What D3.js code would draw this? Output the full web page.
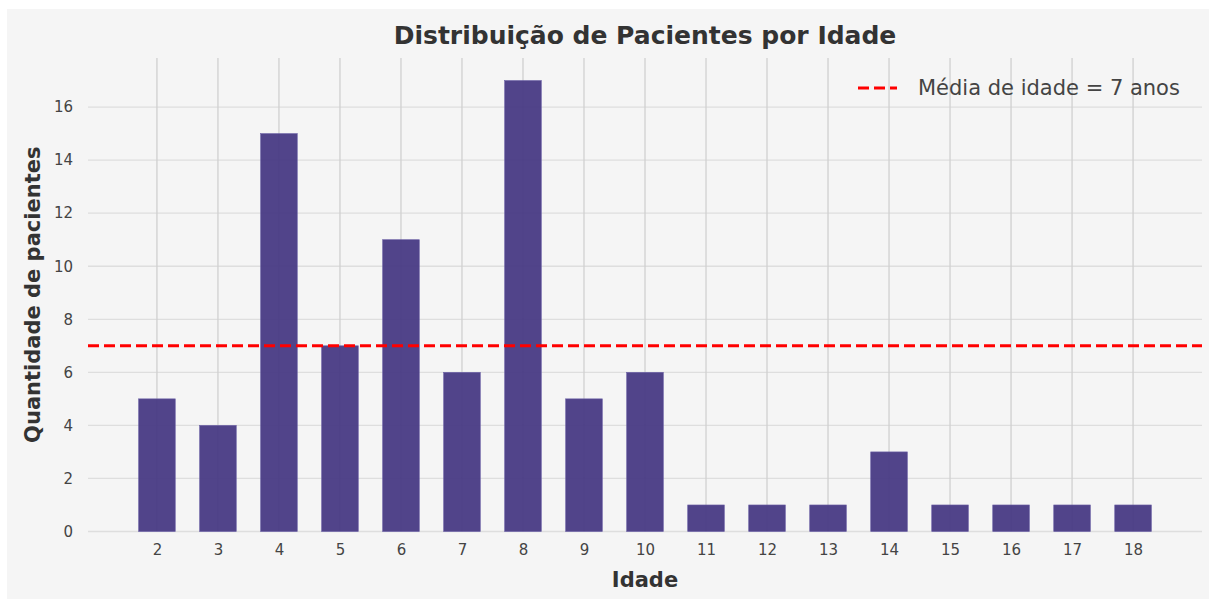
<!DOCTYPE html>
<html><head><meta charset="utf-8">
<script src="https://cdn.jsdelivr.net/npm/d3@7"></script>
<style>body{margin:0;background:#fff;font-family:"DejaVu Sans",sans-serif}</style>
</head><body>
<svg id="c" width="1216" height="599"></svg>
<script>
const ages = [2,3,4,5,6,7,8,9,10,11,12,13,14,15,16,17,18];
const counts = [5,4,15,7,11,6,17,5,6,1,1,1,3,1,1,1,1];
const yTicks = [0,2,4,6,8,10,12,14,16];
const meanAge = 7;
const titleText = "Distribuição de Pacientes por Idade";
const xLabel = "Idade";
const yLabel = "Quantidade de pacientes";
const legendText = "Média de idade = 7 anos";

const svg = d3.select("#c");
svg.append("rect").attr("x",7).attr("y",9).attr("width",1202).attr("height",590).attr("fill","#f5f5f5");

const L=88, R=1202, T=58, B=531.5;
const x = d3.scaleLinear().domain([0.87,19.13]).range([L,R]);
const y = d3.scaleLinear().domain([0,17.85]).range([B,T]);
const bw = x(2.3)-x(1.7);

// grid
const g = svg.append("g");
g.selectAll(".hg").data(yTicks).join("line")
 .attr("x1",L).attr("x2",R).attr("y1",d=>y(d)).attr("y2",d=>y(d))
 .attr("stroke","#dedede").attr("stroke-width",1.3);
g.selectAll(".vg").data(ages).join("line")
 .attr("x1",d=>x(d)).attr("x2",d=>x(d)).attr("y1",T).attr("y2",B)
 .attr("stroke","#d0d0d0").attr("stroke-width",1.3);

// bars
svg.append("g").selectAll("rect").data(ages).join("rect")
 .attr("x",(d)=>x(d)-bw/2).attr("width",bw)
 .attr("y",(d,i)=>y(counts[i])).attr("height",(d,i)=>y(0)-y(counts[i]))
 .attr("fill","#483a84").attr("fill-opacity",0.95)
 .attr("stroke","#6a5fa5").attr("stroke-width",0.6);

// mean line
svg.append("line").attr("x1",L).attr("x2",R).attr("y1",y(meanAge)).attr("y2",y(meanAge))
 .attr("stroke","#ff0000").attr("stroke-width",3).attr("stroke-dasharray","11,5");

// axes
const xa = d3.axisBottom(x).tickValues(ages).tickSize(0).tickPadding(13);
const ya = d3.axisLeft(y).tickValues(yTicks).tickSize(0).tickPadding(15);
const gx = svg.append("g").attr("transform",`translate(0,${B})`).call(xa);
const gy = svg.append("g").attr("transform",`translate(${L},0)`).call(ya);
[gx,gy].forEach(a=>{a.select(".domain").remove();
 a.selectAll("text").attr("font-family","DejaVu Sans").attr("font-size",15).attr("fill","#444");});

// labels
svg.append("text").attr("x",(L+R)/2).attr("y",44).attr("text-anchor","middle")
 .attr("font-size",25).attr("font-weight","bold").attr("fill","#333").text(titleText);
svg.append("text").attr("x",(L+R)/2).attr("y",587).attr("text-anchor","middle")
 .attr("font-size",21).attr("font-weight","bold").attr("fill","#333").text(xLabel);
svg.append("text").attr("transform",`translate(40,${(T+B)/2}) rotate(-90)`).attr("text-anchor","middle")
 .attr("font-size",21).attr("font-weight","bold").attr("fill","#333").text(yLabel);

// legend
svg.append("line").attr("x1",858).attr("x2",897).attr("y1",88).attr("y2",88)
 .attr("stroke","#ff0000").attr("stroke-width",3).attr("stroke-dasharray","11,5");
svg.append("text").attr("x",918).attr("y",95).attr("font-size",21).attr("fill","#444").text(legendText);
</script>
</body></html>
